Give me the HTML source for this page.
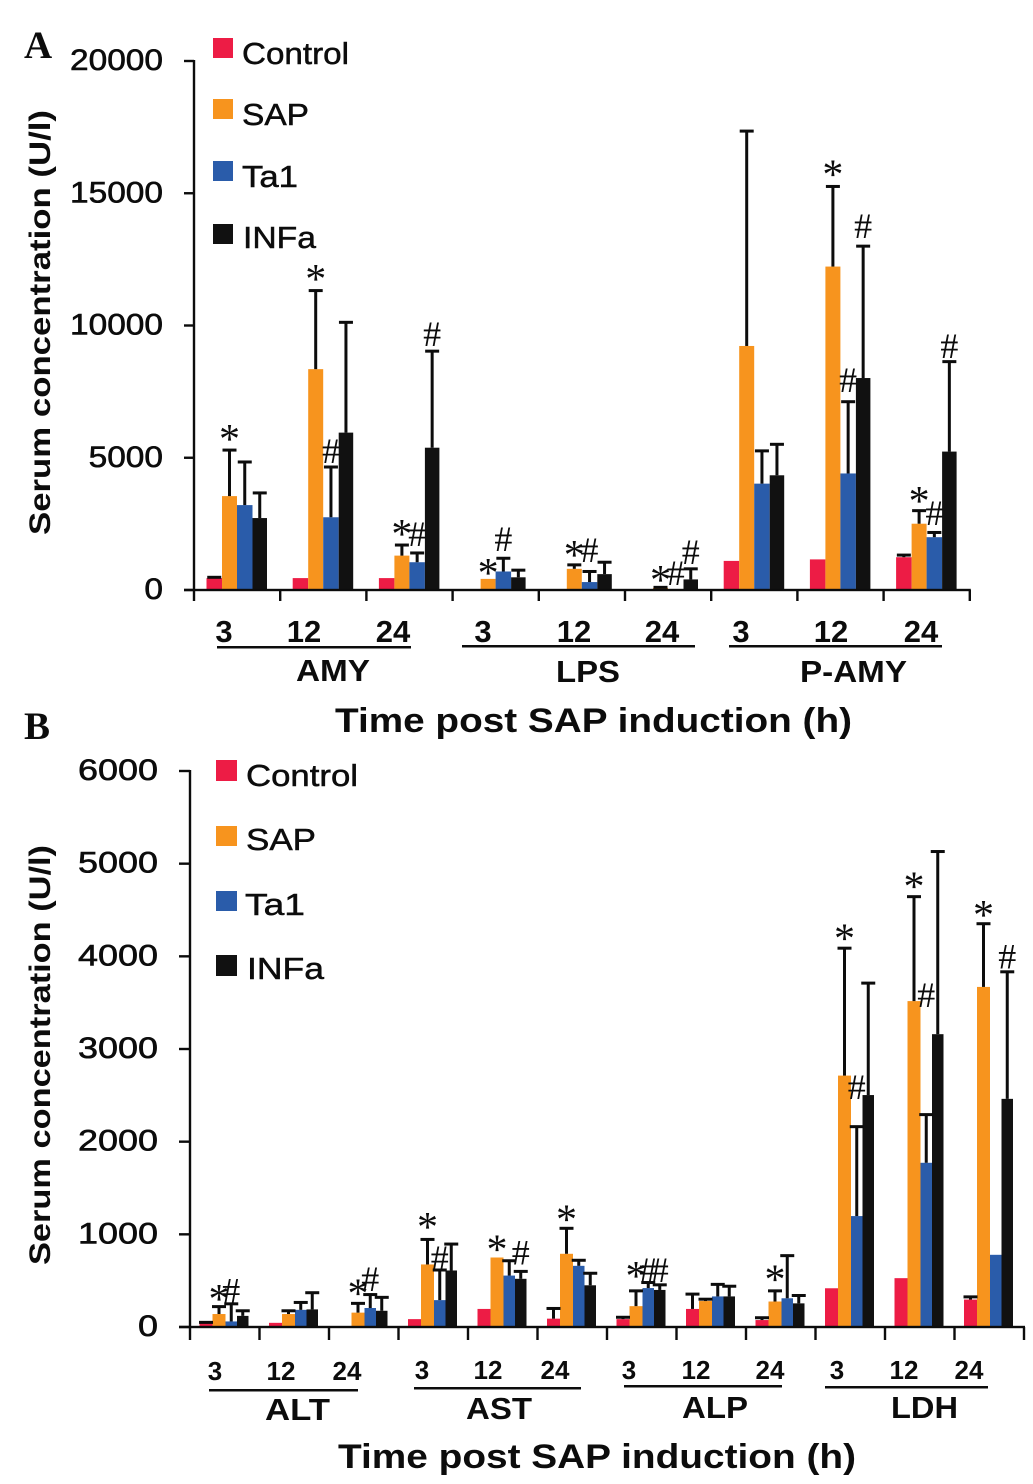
<!DOCTYPE html>
<html lang="en">
<head>
<meta charset="utf-8">
<title>Serum concentration charts</title>
<style>
html,body{margin:0;padding:0;background:#fff;}
svg{display:block;}
text{font-family:"Liberation Sans",sans-serif;fill:#0c0c0c;}
.tick{font-size:30px;stroke:#0c0c0c;stroke-width:.6px;}
.leg{font-size:31px;stroke:#0c0c0c;stroke-width:.5px;}
.b{font-weight:bold;}
.letter{font-family:"Liberation Serif",serif;font-weight:bold;font-size:39px;}
.mark{font-family:"Liberation Serif",serif;text-anchor:middle;}
</style>
</head>
<body>
<svg id="chart" xmlns="http://www.w3.org/2000/svg" width="1033" height="1484" viewBox="0 0 1033 1484">
  <rect x="0" y="0" width="1033" height="1484" fill="#fff"/>
  <g id="panelA">
    <text class="letter" x="24" y="58">A</text>
    <text class="b" transform="translate(50,535) rotate(-90)" font-size="30" textLength="425" lengthAdjust="spacingAndGlyphs">Serum concentration (U/l)</text>
    <g>
      <rect x="213" y="38" width="20" height="20" fill="#ed1c45"/>
      <text class="leg" x="242" y="64" textLength="107" lengthAdjust="spacingAndGlyphs">Control</text>
      <rect x="213" y="99" width="20" height="20" fill="#f7941e"/>
      <text class="leg" x="242" y="125" textLength="67" lengthAdjust="spacingAndGlyphs">SAP</text>
      <rect x="213" y="161" width="20" height="20" fill="#2a5caa"/>
      <text class="leg" x="242" y="187" textLength="56" lengthAdjust="spacingAndGlyphs">Ta1</text>
      <rect x="213" y="224" width="20" height="20" fill="#111"/>
      <text class="leg" x="243" y="248" textLength="73" lengthAdjust="spacingAndGlyphs">INFa</text>
    </g>
    <g class="b" font-size="31" text-anchor="middle" font-weight="bold">
      <text x="224" y="642">3</text>
      <text x="304" y="642">12</text>
      <text x="393" y="642">24</text>
      <text x="483" y="642">3</text>
      <text x="574" y="642">12</text>
      <text x="662" y="642">24</text>
      <text x="741" y="642">3</text>
      <text x="831" y="642">12</text>
      <text x="921" y="642">24</text>
    </g>
    <g fill="#0c0c0c">
      <rect x="217" y="646" width="194" height="2.5"/>
      <rect x="462" y="645" width="233" height="2.5"/>
      <rect x="729" y="645" width="213" height="2.5"/>
    </g>
    <g font-size="31" font-weight="bold">
      <text x="296" y="681" textLength="74" lengthAdjust="spacingAndGlyphs">AMY</text>
      <text x="556" y="682" textLength="64" lengthAdjust="spacingAndGlyphs">LPS</text>
      <text x="800" y="682" textLength="107" lengthAdjust="spacingAndGlyphs">P-AMY</text>
    </g>
    <text class="b" x="335" y="732" font-size="34" textLength="517" lengthAdjust="spacingAndGlyphs">Time post SAP induction (h)</text>
  </g>
  <g id="panelB">
    <text class="letter" x="24" y="739">B</text>
    <text class="b" transform="translate(50,1265) rotate(-90)" font-size="30" textLength="420" lengthAdjust="spacingAndGlyphs">Serum concentration (U/l)</text>
    <g>
      <rect x="216" y="760" width="21" height="21" fill="#ed1c45"/>
      <text class="leg" x="246" y="786" textLength="112" lengthAdjust="spacingAndGlyphs">Control</text>
      <rect x="216" y="826" width="21" height="20" fill="#f7941e"/>
      <text class="leg" x="246" y="850" textLength="70" lengthAdjust="spacingAndGlyphs">SAP</text>
      <rect x="216" y="891" width="21" height="20" fill="#2a5caa"/>
      <text class="leg" x="245" y="915" textLength="60" lengthAdjust="spacingAndGlyphs">Ta1</text>
      <rect x="216" y="955" width="21" height="21" fill="#111"/>
      <text class="leg" x="247" y="979" textLength="77" lengthAdjust="spacingAndGlyphs">INFa</text>
    </g>
    <g font-size="26" text-anchor="middle" font-weight="bold">
      <text x="215" y="1380">3</text>
      <text x="281" y="1380">12</text>
      <text x="347" y="1380">24</text>
      <text x="422" y="1379">3</text>
      <text x="488" y="1379">12</text>
      <text x="555" y="1379">24</text>
      <text x="629" y="1379">3</text>
      <text x="696" y="1379">12</text>
      <text x="770" y="1379">24</text>
      <text x="837" y="1379">3</text>
      <text x="904" y="1379">12</text>
      <text x="969" y="1379">24</text>
    </g>
    <g fill="#0c0c0c">
      <rect x="209" y="1389" width="149" height="2.5"/>
      <rect x="414" y="1387" width="167" height="2.5"/>
      <rect x="624" y="1385" width="158" height="2.5"/>
      <rect x="825" y="1386" width="163" height="2.5"/>
    </g>
    <g font-size="31" font-weight="bold">
      <text x="265" y="1420" textLength="65" lengthAdjust="spacingAndGlyphs">ALT</text>
      <text x="466" y="1419" textLength="66" lengthAdjust="spacingAndGlyphs">AST</text>
      <text x="682" y="1418" textLength="66" lengthAdjust="spacingAndGlyphs">ALP</text>
      <text x="891" y="1418" textLength="67" lengthAdjust="spacingAndGlyphs">LDH</text>
    </g>
    <text class="b" x="338" y="1468" font-size="34" textLength="518" lengthAdjust="spacingAndGlyphs">Time post SAP induction (h)</text>
  </g>
</svg>
<script>
// Panel A values: AMY 3/12/24, LPS 3/12/24, P-AMY 3/12/24
const seriesNames = ['control', 'sap', 'ta1', 'infa'];
const seriesColors = ['#ed1c45', '#f7941e', '#2a5caa', '#111111'];

const aCategories = ['AMY-3', 'AMY-12', 'AMY-24', 'LPS-3', 'LPS-12', 'LPS-24', 'PAMY-3', 'PAMY-12', 'PAMY-24'];
const aYTicks = [0, 5000, 10000, 15000, 20000];
const aControl = [450, 450, 450, 0, 0, 0, 1100, 1157, 1240];
const aSap = [3550, 8350, 1300, 420, 800, 80, 9226, 12228, 2506];
const aTa1 = [3210, 2750, 1050, 700, 300, 0, 4021, 4406, 1997];
const aInfa = [2720, 5950, 5380, 480, 600, 400, 4337, 8014, 5233];
const aControlErr = [480, null, null, null, null, null, null, null, 1320];
const aSapErr = [5290, 11320, 1700, null, 950, 100, 17350, 15257, 3000];
const aTa1Err = [4840, 4650, 1400, 1200, 700, null, 5260, 7119, 2175];
const aInfaErr = [3670, 10120, 9030, 750, 1050, 800, 5508, 13000, 8634];
// [category index, series index, symbol, value level]
const aMarks = [
  [0, 1, '*', 5935], [1, 1, '*', 11983], [1, 2, '#', 5254], [2, 1, '*', 2344], [2, 2, '#', 2117], [2, 3, '#', 9677],
  [3, 1, '*', 870], [3, 2, '#', 1928], [4, 1, '*', 1550], [4, 2, '#', 1512], [5, 1, '*', 605], [5, 2, '#', 643], [5, 3, '#', 1436],
  [7, 1, '*', 15950], [7, 2, '#', 7938], [7, 3, '#', 13760], [8, 1, '*', 3591], [8, 2, '#', 2911], [8, 3, '#', 9223]
];

// Panel B values: ALT, AST, ALP, LDH at 3/12/24 h
const bCategories = ['ALT-3', 'ALT-12', 'ALT-24', 'AST-3', 'AST-12', 'AST-24', 'ALP-3', 'ALP-12', 'ALP-24', 'LDH-3', 'LDH-12', 'LDH-24'];
const bYTicks = [0, 1000, 2000, 3000, 4000, 5000, 6000];
const bControl = [40, 45, 0, 85, 195, 90, 85, 195, 75, 418, 527, 296];
const bSap = [140, 140, 155, 675, 750, 790, 225, 280, 275, 2713, 3517, 3670];
const bTa1 = [60, 185, 205, 290, 555, 660, 420, 330, 310, 1197, 1772, 779];
const bInfa = [120, 190, 175, 610, 520, 450, 400, 330, 255, 2503, 3160, 2462];
const bControlErr = [50, null, null, null, null, 200, 105, 355, 100, null, null, 325];
const bSapErr = [220, 175, 255, 945, null, 1065, 390, 300, 390, 4088, 4644, 4352];
const bTa1Err = [250, 265, 350, 615, 715, 720, 480, 460, 770, 2162, 2292, null];
const bInfaErr = [175, 370, 320, 895, 600, 580, 455, 440, 340, 3711, 5131, 3833];
const bMarks = [
  [0, 1, '*', 371], [0, 2, '#', 392], [2, 1, '*', 428], [2, 2, '#', 518], [3, 1, '*', 1148], [3, 2, '#', 742],
  [4, 1, '*', 904], [4, 3, '#', 803], [5, 1, '*', 1228], [6, 1, '*', 616], [6, 2, '#', 616], [6, 3, '#', 616],
  [8, 1, '*', 580], [9, 1, '*', 4259], [9, 2, '#', 2588], [10, 1, '*', 4819], [10, 2, '#', 3581], [11, 1, '*', 4514], [11, 3, '#', 3995]
];

const SVGNS = 'http://www.w3.org/2000/svg';

function makeRect(parent, x, y, w, h, fill) {
  const r = document.createElementNS(SVGNS, 'rect');
  r.setAttribute('x', x);
  r.setAttribute('y', y);
  r.setAttribute('width', w);
  r.setAttribute('height', h);
  r.setAttribute('fill', fill);
  parent.appendChild(r);
  return r;
}

function drawPanel(p) {
  const root = document.getElementById(p.id);
  const yScale = function (v) { return p.y0 - v * (p.y0 - p.yTop) / p.yMax; };
  const xScale = function (i) { return p.x0 + i * p.step; };
  const ink = '#0c0c0c';

  const plot = document.createElementNS(SVGNS, 'g');
  
  
  root.appendChild(plot);

  // bars
  p.categories.forEach(function (cat, c) {
    p.values.forEach(function (vals, s) {
      const v = vals[c];
      if (!v) return;
      const bar = makeRect(plot, xScale(c) + p.offsets[s], yScale(v), p.widths[s], p.y0 - yScale(v), seriesColors[s]);
      
      
    });
  });

  // error bars
  p.categories.forEach(function (cat, c) {
    p.errors.forEach(function (errs, s) {
      const e = errs[c];
      if (e === null) return;
      const cx = xScale(c) + p.offsets[s] + p.widths[s] / 2;
      const top = yScale(e);
      const base = yScale(p.values[s][c]);
      const g = document.createElementNS(SVGNS, 'g');
      
      
      plot.appendChild(g);
      makeRect(g, cx - 1.5, top, 3, Math.max(0, base - top), ink);
      makeRect(g, cx - p.cap / 2, top - 1.5, p.cap, 3, ink);
    });
  });

  // axes
  const yAxis = makeRect(plot, p.x0 - 1.2, p.yTop - 1, 2.4, p.y0 - p.yTop + 2, ink);
  
  
  const xEnd = xScale(p.categories.length);
  const xAxis = makeRect(plot, p.x0 - p.tickLen, p.y0 - 1.2, xEnd - p.x0 + p.tickLen + 1, 2.4, ink);
  
  

  for (let i = 0; i <= p.categories.length; i++) {
    const t = makeRect(plot, xScale(i) - 1.2, p.y0, 2.4, p.xTickLen, ink);
    
    
  }

  p.yTicks.forEach(function (v) {
    const t = makeRect(plot, p.x0 - p.tickLen, yScale(v) - 1.2, p.tickLen, 2.4, ink);
    
    
    const label = document.createElementNS(SVGNS, 'text');
    const txt = String(v);
    const w = txt.length * p.charW;
    label.setAttribute('class', 'tick');
    label.setAttribute('x', p.labelRight - w);
    label.setAttribute('y', yScale(v) + 9);
    label.setAttribute('textLength', w);
    label.setAttribute('lengthAdjust', 'spacingAndGlyphs');
    
    
    label.textContent = txt;
    plot.appendChild(label);
  });

  // significance marks
  p.marks.forEach(function (m) {
    const cx = xScale(m[0]) + p.offsets[m[1]] + p.widths[m[1]] / 2;
    const cy = yScale(m[3]);
    const isStar = m[2] === '*';
    const size = isStar ? 42 : 36;
    const label = document.createElementNS(SVGNS, 'text');
    label.setAttribute('class', 'mark');
    label.setAttribute('x', cx);
    label.setAttribute('y', cy + (isStar ? size * 0.48 : size * 0.33));
    label.setAttribute('font-size', size);
    
    
    label.textContent = m[2];
    plot.appendChild(label);
  });
}

drawPanel({
  id: 'panelA', prefix: 'panel-a', categories: aCategories, yTicks: aYTicks,
  values: [aControl, aSap, aTa1, aInfa], errors: [aControlErr, aSapErr, aTa1Err, aInfaErr], marks: aMarks,
  x0: 194, step: 86.2, y0: 590, yTop: 61, yMax: 20000,
  offsets: [12.5, 28, 43, 58.5], widths: [15.5, 15, 15.5, 14.5], cap: 14,
  tickLen: 10, xTickLen: 11, labelRight: 163, charW: 18.6
});
drawPanel({
  id: 'panelB', prefix: 'panel-b', categories: bCategories, yTicks: bYTicks,
  values: [bControl, bSap, bTa1, bInfa], errors: [bControlErr, bSapErr, bTa1Err, bInfaErr], marks: bMarks,
  x0: 190, step: 69.5, y0: 1327, yTop: 771, yMax: 6000,
  offsets: [9.5, 22.5, 35.5, 47], widths: [13, 13, 11.5, 11.5], cap: 14,
  tickLen: 11, xTickLen: 13, labelRight: 158, charW: 20
});
</script>
</body>
</html>
